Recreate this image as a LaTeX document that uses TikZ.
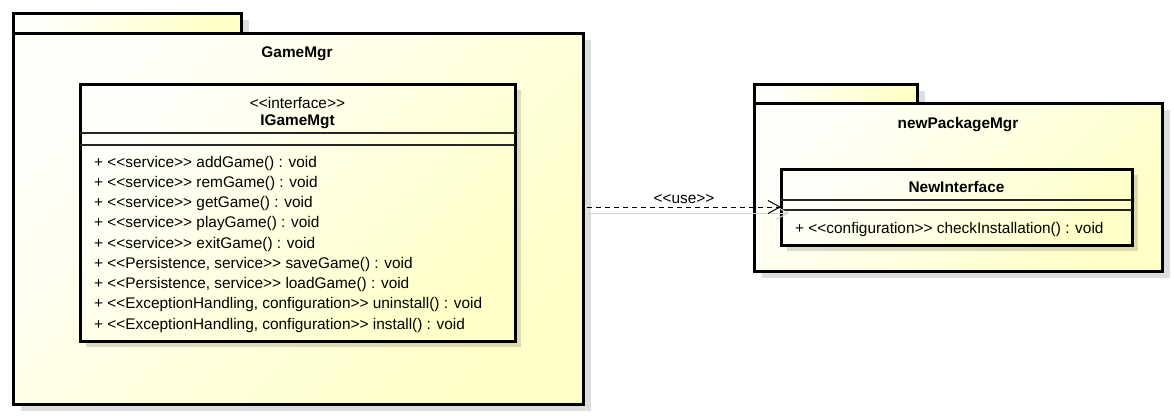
\documentclass[tikz,border=0pt]{standalone}
\usepackage{fontspec}
\setmainfont{Liberation Sans}
\usetikzlibrary{shadows,arrows.meta}
\definecolor{umlY}{HTML}{FFFFC8}
\definecolor{umlW}{HTML}{FFFFFA}
\begin{document}
\begin{tikzpicture}[x=1pt,y=-1pt,
  umlfill/.style={top color=umlW,bottom color=umlY,shading angle=45},
  pkgshadow/.style={general shadow={fill=black,fill opacity=0.13,shadow xshift=8pt,shadow yshift=-7pt}},
  clsshadow/.style={general shadow={fill=black,fill opacity=0.14,shadow xshift=6pt,shadow yshift=-6pt}},
  pkgbox/.style={draw=black,line width=3pt,umlfill,pkgshadow,inner sep=0pt,outer sep=0pt},
  clsbox/.style={draw=black,line width=3pt,umlfill,clsshadow,inner sep=0pt,outer sep=0pt},
  txt/.style={font=\fontsize{15.4}{18}\selectfont,inner sep=0pt},
  btxt/.style={font=\fontsize{15.4}{18}\selectfont\bfseries,inner sep=0pt},
  op/.style={txt,anchor=base west},
  sep/.style={draw=black!85,line width=1.3pt},
  dep/.style={draw=black,line width=1pt,dash pattern=on 5pt off 4pt,-{Straight Barb[length=12pt,width=13pt,line width=1pt]}},
  depshadow/.style={draw=black!18,line width=1pt,-{Straight Barb[length=12pt,width=13pt,line width=1pt]}}
]
\useasboundingbox (0,0) rectangle (1174,416);
% ---- package GameMgr
\node[pkgbox,minimum width=228pt,minimum height=20pt] (gmtab) at (127,23) {};
\node[pkgbox,minimum width=570pt,minimum height=371pt] (gm) at (298,218.5) {};
\node[btxt,anchor=base] (gmtitle) at (297,57) {GameMgr};
% ---- class IGameMgt
\node[clsbox,minimum width=435pt,minimum height=257pt] (ig) at (297.5,212.5) {};
\coordinate (igl1) at (80,133);
\coordinate (igl2) at (80,145);
\draw[sep] (igl1) -- (igl1 -| ig.east);
\draw[sep] (igl2) -- (igl2 -| ig.east);
\node[txt,anchor=base] (igst) at (297.5,108) {<{}<interface>{}>};
\node[btxt,anchor=base] (igname) at (297.5,125) {IGameMgt};
\node[op] (o1) at (94,167) {+ <{}<service>{}> addGame() : void};
\node[op] (o2) at (94,187.25) {+ <{}<service>{}> remGame() : void};
\node[op] (o3) at (94,207.5) {+ <{}<service>{}> getGame() : void};
\node[op] (o4) at (94,227.75) {+ <{}<service>{}> playGame() : void};
\node[op] (o5) at (94,248) {+ <{}<service>{}> exitGame() : void};
\node[op] (o6) at (94,268.25) {+ <{}<Persistence, service>{}> saveGame() : void};
\node[op] (o7) at (94,288.5) {+ <{}<Persistence, service>{}> loadGame() : void};
\node[op] (o8) at (94,308.75) {+ <{}<ExceptionHandling, configuration>{}> uninstall() : void};
\node[op] (o9) at (94,329) {+ <{}<ExceptionHandling, configuration>{}> install() : void};
% ---- package newPackageMgr
\node[pkgbox,minimum width=163pt,minimum height=19pt] (nptab) at (835.5,93.5) {};
\node[pkgbox,minimum width=408pt,minimum height=168pt] (np) at (958,187) {};
\node[btxt,anchor=base] (nptitle) at (958,128) {newPackageMgr};
% ---- class NewInterface
\node[clsbox,minimum width=351pt,minimum height=76pt] (ni) at (956.5,207) {};
\coordinate (nil1) at (781,200);
\coordinate (nil2) at (781,210);
\draw[sep] (nil1) -- (nil1 -| ni.east);
\draw[sep] (nil2) -- (nil2 -| ni.east);
\node[btxt,anchor=base] (niname) at (956.5,192) {NewInterface};
\node[op] (nio1) at (795,233) {+ <{}<configuration>{}> checkInstallation() : void};
% ---- dependency
\coordinate (ds1) at ([yshift=-6pt]gm.east |- ni.west);
\coordinate (ds2) at ([xshift=8pt,yshift=-6pt]ni.west);
\draw[depshadow] ([xshift=5pt]ds1) -- (ds2);
\draw[dep] ([xshift=4pt]gm.east |- ni.west) -- (ni.west) node[midway,above=3pt,txt] {<{}<use>{}>};
\end{tikzpicture}
\end{document}
